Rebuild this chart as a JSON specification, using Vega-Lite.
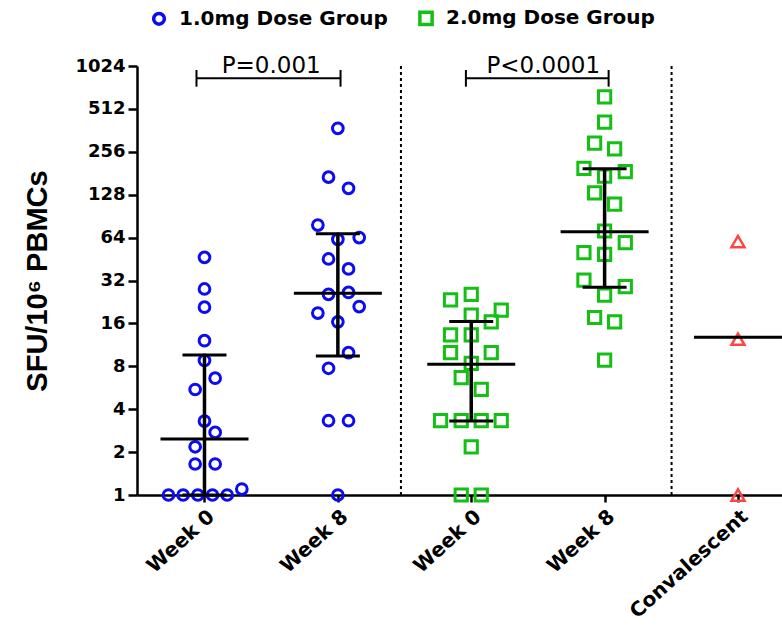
{
  "$schema": "https://vega.github.io/schema/vega-lite/v6.json",
  "autosize": "none",
  "width": 645,
  "height": 429,
  "padding": {"left": 137, "top": 66, "right": 0, "bottom": 130},
  "config": {
    "view": {"stroke": null},
    "axis": {"grid": false, "domainColor": "black", "tickColor": "black", "labelColor": "black", "titleColor": "black", "domainWidth": 2.5, "tickWidth": 2.5}
  },
  "datasets": {
    "points": [
      {"dose": "1.0mg Dose Group", "pos": 1.0, "value": 46.5},
      {"dose": "1.0mg Dose Group", "pos": 1.0, "value": 27.9},
      {"dose": "1.0mg Dose Group", "pos": 1.0, "value": 20.8},
      {"dose": "1.0mg Dose Group", "pos": 1.0, "value": 12.1},
      {"dose": "1.0mg Dose Group", "pos": 1.0, "value": 8.8},
      {"dose": "1.0mg Dose Group", "pos": 1.08, "value": 6.6},
      {"dose": "1.0mg Dose Group", "pos": 0.93, "value": 5.5},
      {"dose": "1.0mg Dose Group", "pos": 1.0, "value": 3.3},
      {"dose": "1.0mg Dose Group", "pos": 1.08, "value": 2.75},
      {"dose": "1.0mg Dose Group", "pos": 0.93, "value": 2.18},
      {"dose": "1.0mg Dose Group", "pos": 0.93, "value": 1.65},
      {"dose": "1.0mg Dose Group", "pos": 1.08, "value": 1.65},
      {"dose": "1.0mg Dose Group", "pos": 1.28, "value": 1.1},
      {"dose": "1.0mg Dose Group", "pos": 0.73, "value": 1},
      {"dose": "1.0mg Dose Group", "pos": 0.84, "value": 1},
      {"dose": "1.0mg Dose Group", "pos": 0.95, "value": 1},
      {"dose": "1.0mg Dose Group", "pos": 1.06, "value": 1},
      {"dose": "1.0mg Dose Group", "pos": 1.17, "value": 1},
      {"dose": "1.0mg Dose Group", "pos": 2.0, "value": 374},
      {"dose": "1.0mg Dose Group", "pos": 1.93, "value": 170},
      {"dose": "1.0mg Dose Group", "pos": 2.08, "value": 142},
      {"dose": "1.0mg Dose Group", "pos": 1.85, "value": 78.4},
      {"dose": "1.0mg Dose Group", "pos": 2.0, "value": 62.2},
      {"dose": "1.0mg Dose Group", "pos": 2.16, "value": 64},
      {"dose": "1.0mg Dose Group", "pos": 1.93, "value": 45.3},
      {"dose": "1.0mg Dose Group", "pos": 2.08, "value": 38.6},
      {"dose": "1.0mg Dose Group", "pos": 1.93, "value": 25.6},
      {"dose": "1.0mg Dose Group", "pos": 2.08, "value": 26.4},
      {"dose": "1.0mg Dose Group", "pos": 2.16, "value": 21},
      {"dose": "1.0mg Dose Group", "pos": 1.85, "value": 18.9},
      {"dose": "1.0mg Dose Group", "pos": 2.0, "value": 16.4},
      {"dose": "1.0mg Dose Group", "pos": 2.08, "value": 9.97},
      {"dose": "1.0mg Dose Group", "pos": 1.93, "value": 7.75},
      {"dose": "1.0mg Dose Group", "pos": 1.93, "value": 3.32},
      {"dose": "1.0mg Dose Group", "pos": 2.08, "value": 3.32},
      {"dose": "1.0mg Dose Group", "pos": 2.0, "value": 1},
      {"dose": "2.0mg Dose Group", "pos": 3.0, "value": 25.6},
      {"dose": "2.0mg Dose Group", "pos": 2.845, "value": 23.4},
      {"dose": "2.0mg Dose Group", "pos": 3.225, "value": 19.8},
      {"dose": "2.0mg Dose Group", "pos": 3.0, "value": 18.3},
      {"dose": "2.0mg Dose Group", "pos": 3.15, "value": 16.4},
      {"dose": "2.0mg Dose Group", "pos": 2.845, "value": 13.3},
      {"dose": "2.0mg Dose Group", "pos": 3.0, "value": 13.3},
      {"dose": "2.0mg Dose Group", "pos": 2.845, "value": 9.97},
      {"dose": "2.0mg Dose Group", "pos": 3.15, "value": 9.97},
      {"dose": "2.0mg Dose Group", "pos": 3.0, "value": 8.4},
      {"dose": "2.0mg Dose Group", "pos": 2.925, "value": 6.65},
      {"dose": "2.0mg Dose Group", "pos": 3.075, "value": 5.5},
      {"dose": "2.0mg Dose Group", "pos": 2.77, "value": 3.32},
      {"dose": "2.0mg Dose Group", "pos": 2.925, "value": 3.32},
      {"dose": "2.0mg Dose Group", "pos": 3.075, "value": 3.32},
      {"dose": "2.0mg Dose Group", "pos": 3.225, "value": 3.32},
      {"dose": "2.0mg Dose Group", "pos": 3.0, "value": 2.18},
      {"dose": "2.0mg Dose Group", "pos": 2.925, "value": 1},
      {"dose": "2.0mg Dose Group", "pos": 3.075, "value": 1},
      {"dose": "2.0mg Dose Group", "pos": 4.0, "value": 623},
      {"dose": "2.0mg Dose Group", "pos": 4.0, "value": 413},
      {"dose": "2.0mg Dose Group", "pos": 3.925, "value": 294},
      {"dose": "2.0mg Dose Group", "pos": 4.075, "value": 268},
      {"dose": "2.0mg Dose Group", "pos": 3.845, "value": 196},
      {"dose": "2.0mg Dose Group", "pos": 4.0, "value": 173},
      {"dose": "2.0mg Dose Group", "pos": 4.155, "value": 186},
      {"dose": "2.0mg Dose Group", "pos": 3.925, "value": 132},
      {"dose": "2.0mg Dose Group", "pos": 4.075, "value": 110},
      {"dose": "2.0mg Dose Group", "pos": 4.0, "value": 71.2},
      {"dose": "2.0mg Dose Group", "pos": 4.155, "value": 59},
      {"dose": "2.0mg Dose Group", "pos": 3.845, "value": 50.2},
      {"dose": "2.0mg Dose Group", "pos": 4.0, "value": 48.8},
      {"dose": "2.0mg Dose Group", "pos": 3.845, "value": 32.2},
      {"dose": "2.0mg Dose Group", "pos": 4.155, "value": 29},
      {"dose": "2.0mg Dose Group", "pos": 4.0, "value": 25.3},
      {"dose": "2.0mg Dose Group", "pos": 3.925, "value": 17.6},
      {"dose": "2.0mg Dose Group", "pos": 4.075, "value": 16.4},
      {"dose": "2.0mg Dose Group", "pos": 4.0, "value": 8.85}
    ],
    "convalescent": [
      {"pos": 5.0, "value": 60},
      {"pos": 5.0, "value": 12.4},
      {"pos": 5.0, "value": 1}
    ],
    "summary": [
      {"pos": 1, "median": 2.47, "low": 1, "high": 9.6},
      {"pos": 2, "median": 26, "low": 9.45, "high": 68},
      {"pos": 3, "median": 8.27, "low": 3.3, "high": 16.5},
      {"pos": 4, "median": 70.4, "low": 28.7, "high": 195},
      {"pos": 5, "median": 12.8, "low": null, "high": null}
    ],
    "brackets": [
      {"label": "P=0.001", "from": 0.94, "to": 2.02, "mid": 1.5},
      {"label": "P<0.0001", "from": 2.96, "to": 4.03, "mid": 3.54}
    ],
    "separators": [
      {"boundary": 2.473},
      {"boundary": 4.502}
    ]
  },
  "layer": [
    {
      "data": {"name": "separators"},
      "mark": {"type": "rule", "color": "black", "strokeWidth": 2, "strokeDash": [3, 3]},
      "encoding": {
        "x": {
          "field": "boundary", "type": "quantitative",
          "scale": {"domain": [0.494, 5.33], "nice": false, "zero": false},
          "axis": {
            "values": [1, 2, 3, 4, 5],
            "labelExpr": "['', 'Week 0', 'Week 8', 'Week 0', 'Week 8', 'Convalescent'][datum.value]",
            "labelAngle": -42,
            "labelFont": "DejaVu Sans",
            "labelFontWeight": "bold",
            "labelFontSize": 20,
            "tickSize": 7,
            "labelPadding": 4,
            "labelFlush": false,
            "labelOverlap": false,
            "title": null
          }
        },
        "y": {"datum": 1024, "type": "quantitative",
          "scale": {"type": "log", "base": 2, "domain": [1, 1024], "nice": false},
          "axis": {
            "values": [1, 2, 4, 8, 16, 32, 64, 128, 256, 512, 1024],
            "format": "d",
            "labelFont": "DejaVu Sans",
            "labelFontWeight": "bold",
            "labelFontSize": 18,
            "labelFlush": false,
            "labelOverlap": false,
            "tickSize": 9,
            "labelPadding": 3,
            "title": "SFU/10⁶ PBMCs",
            "titleFont": "Liberation Sans",
            "titleFontWeight": "bold",
            "titleFontSize": 29,
            "titlePadding": 22
          }
        },
        "y2": {"datum": 1}
      }
    },
    {
      "data": {"name": "points"},
      "mark": {"type": "point", "filled": false, "strokeWidth": 3, "opacity": 1},
      "encoding": {
        "x": {"field": "pos", "type": "quantitative"},
        "y": {"field": "value", "type": "quantitative"},
        "color": {
          "field": "dose", "type": "nominal",
          "scale": {"domain": ["1.0mg Dose Group", "2.0mg Dose Group"], "range": ["#0b0bf5", "#14c014"]},
          "legend": {
            "title": null, "orient": "none", "direction": "horizontal",
            "legendX": 12, "legendY": -58, "padding": 0,
            "labelFont": "DejaVu Sans", "labelFontWeight": "bold", "labelFontSize": 20, "labelColor": "black", "labelLimit": 400,
            "symbolSize": 160, "symbolStrokeWidth": 3.5, "labelOffset": 10, "columnPadding": 24
          }
        },
        "shape": {
          "field": "dose", "type": "nominal",
          "scale": {"domain": ["1.0mg Dose Group", "2.0mg Dose Group"], "range": ["circle", "square"]}
        },
        "size": {
          "field": "dose", "type": "nominal", "legend": null,
          "scale": {"domain": ["1.0mg Dose Group", "2.0mg Dose Group"], "range": [115, 150]}
        }
      }
    },
    {
      "data": {"name": "convalescent"},
      "mark": {"type": "point", "shape": "triangle-up", "filled": false, "strokeWidth": 2.5, "color": "#ff4444", "size": 170, "opacity": 1},
      "encoding": {
        "x": {"field": "pos", "type": "quantitative"},
        "y": {"field": "value", "type": "quantitative"}
      }
    },
    {
      "data": {"name": "summary"},
      "transform": [{"filter": "datum.low != null"}],
      "mark": {"type": "rule", "color": "black", "strokeWidth": 3.5},
      "encoding": {
        "x": {"field": "pos", "type": "quantitative"},
        "y": {"field": "low", "type": "quantitative"},
        "y2": {"field": "high"}
      }
    },
    {
      "data": {"name": "summary"},
      "transform": [{"filter": "datum.low != null"}],
      "mark": {"type": "tick", "orient": "horizontal", "color": "black", "thickness": 3, "opacity": 1},
      "encoding": {
        "x": {"field": "pos", "type": "quantitative"},
        "y": {"field": "low", "type": "quantitative"},
        "size": {"value": 44}
      }
    },
    {
      "data": {"name": "summary"},
      "transform": [{"filter": "datum.high != null"}],
      "mark": {"type": "tick", "orient": "horizontal", "color": "black", "thickness": 3, "opacity": 1},
      "encoding": {
        "x": {"field": "pos", "type": "quantitative"},
        "y": {"field": "high", "type": "quantitative"},
        "size": {"value": 44}
      }
    },
    {
      "data": {"name": "summary"},
      "mark": {"type": "tick", "orient": "horizontal", "color": "black", "thickness": 3, "opacity": 1},
      "encoding": {
        "x": {"field": "pos", "type": "quantitative"},
        "y": {"field": "median", "type": "quantitative"},
        "size": {"value": 88}
      }
    },
    {
      "data": {"name": "brackets"},
      "mark": {"type": "rule", "color": "black", "strokeWidth": 2},
      "encoding": {
        "x": {"field": "from", "type": "quantitative"},
        "x2": {"field": "to"},
        "y": {"datum": 839, "type": "quantitative"}
      }
    },
    {
      "data": {"name": "brackets"},
      "mark": {"type": "rule", "color": "black", "strokeWidth": 2},
      "encoding": {
        "x": {"field": "from", "type": "quantitative"},
        "y": {"datum": 733, "type": "quantitative"},
        "y2": {"datum": 960}
      }
    },
    {
      "data": {"name": "brackets"},
      "mark": {"type": "rule", "color": "black", "strokeWidth": 2},
      "encoding": {
        "x": {"field": "to", "type": "quantitative"},
        "y": {"datum": 733, "type": "quantitative"},
        "y2": {"datum": 960}
      }
    },
    {
      "data": {"name": "brackets"},
      "mark": {"type": "text", "font": "DejaVu Sans", "fontSize": 23, "color": "black", "baseline": "alphabetic", "align": "center"},
      "encoding": {
        "x": {"field": "mid", "type": "quantitative"},
        "y": {"datum": 910, "type": "quantitative"},
        "text": {"field": "label"}
      }
    }
  ]
}
